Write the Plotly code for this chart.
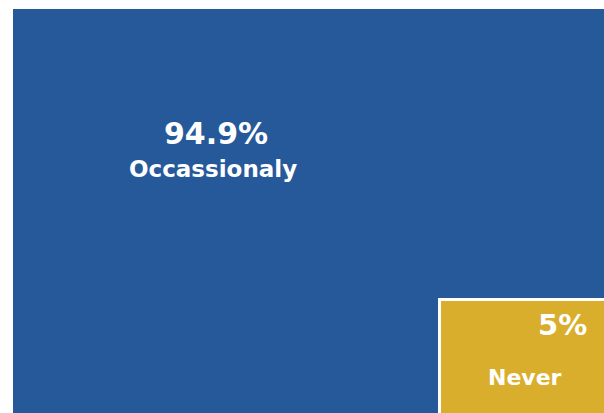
import math
import plotly.graph_objects as go

# ---- data ----
categories = ["Occassionaly", "Never"]
values = [94.9, 5]
pct_labels = ["94.9%", "5%"]

# ---- styling ----
BLUE = "#26599A"
GOLD = "#D9AE2C"
SMALL_SCALE = 1.235  # visual enlargement of the small box side
W, H = 604, 413
ML, MT = 13, 9
BORDER_PX = 3

plot_w, plot_h = W - ML, H - MT
side = math.sqrt(values[1] / 100.0) * SMALL_SCALE
bx = BORDER_PX / plot_w
by = BORDER_PX / plot_h

fig = go.Figure()
# big rectangle (whole area)
fig.add_trace(go.Bar(
    x=[0.5], y=[1.0], width=[1.0], base=0,
    marker=dict(color=BLUE, line=dict(width=0)),
    name=categories[0], hoverinfo="name",
))
# white frame behind the small rectangle
fig.add_trace(go.Bar(
    x=[1 - (side + bx) / 2], y=[side + by], width=[side + bx], base=0,
    marker=dict(color="white", line=dict(width=0)),
    hoverinfo="skip",
))
# small rectangle in bottom-right corner
fig.add_trace(go.Bar(
    x=[1 - side / 2], y=[side], width=[side], base=0,
    marker=dict(color=GOLD, line=dict(width=0)),
    name=categories[1], hoverinfo="name",
))

font_fam = "'DejaVu Sans', sans-serif"
ann = [
    dict(x=0.344, y=0.693, text="<b>" + pct_labels[0] + "</b>", font=dict(size=30, color="white", family=font_fam)),
    dict(x=0.338, y=0.604, text="<b>" + categories[0] + "</b>", font=dict(size=23, color="white", family=font_fam)),
    dict(x=1 - side * 0.257, y=side * 0.79, text="<b>" + pct_labels[1] + "</b>", font=dict(size=29, color="white", family=font_fam)),
    dict(x=1 - side * 0.486, y=side * 0.314, text="<b>" + categories[1] + "</b>", font=dict(size=22, color="white", family=font_fam)),
]
for a in ann:
    a.update(xref="x", yref="y", showarrow=False, xanchor="center", yanchor="middle")

fig.update_layout(
    width=W, height=H,
    margin=dict(l=ML, r=0, t=MT, b=0),
    paper_bgcolor="white", plot_bgcolor="white",
    showlegend=False, barmode="overlay", bargap=0,
    xaxis=dict(range=[0, 1], visible=False, fixedrange=True),
    yaxis=dict(range=[0, 1], visible=False, fixedrange=True),
    annotations=ann,
)

fig.write_html(
    "out.html",
    config={"displayModeBar": False},
    post_script="document.body.style.margin='0';document.body.style.overflow='hidden';",
)
